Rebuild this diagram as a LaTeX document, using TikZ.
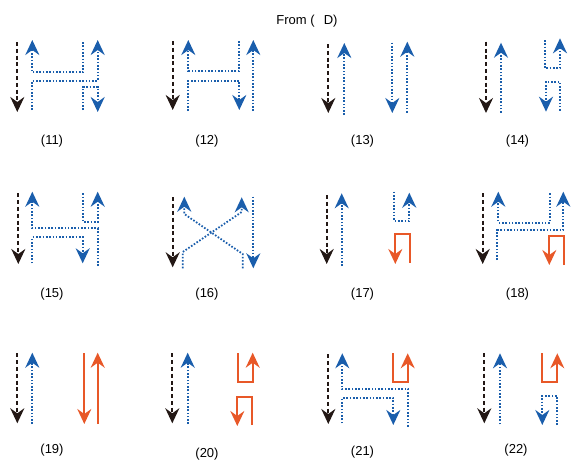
\documentclass[tikz,border=0pt]{standalone}
\usepackage{fontspec}
\setmainfont{Liberation Sans}
\usetikzlibrary{arrows.meta}

\definecolor{flowblack}{RGB}{35,24,21}
\definecolor{flowblue}{RGB}{26,94,172}
\definecolor{floworange}{RGB}{232,88,40}

\tikzset{
  >={Stealth[length=15pt,width=14pt,inset=5pt]},
  blackflow/.style={flowblack, line width=2pt, dash pattern=on 4pt off 2.8pt},
  blueflow/.style={flowblue, line width=1.8pt, dash pattern=on 1.6pt off 1.7pt},
  orangeflow/.style={floworange, line width=1.7pt},
  panellabel/.style={font=\fontsize{13}{15}\selectfont, text=black, inner sep=0pt}
}

\begin{document}
\begin{tikzpicture}[x=1pt, y=-1pt]
  \useasboundingbox (0,0) rectangle (581,474);

  % --- titolo ---
  \node[panellabel] (title) at (307,21) {From (\hspace{0.7em}D)};

  % --- pannello 11 ---
  \draw[blackflow,->] (17.3,42) -- (17.3,112);
  \draw[blueflow,->] (83.3,42) -- (83.3,72.3) -- (32.3,72.3) -- (32.3,40);
  \draw[blueflow,->] (32.3,110) -- (32.3,80.7) -- (97.7,80.7) -- (97.7,40);
  \draw[blueflow,->] (83.3,110) -- (83.3,86.7) -- (97.7,86.7) -- (97.7,112);
  \node[panellabel] (l11) at (52,141) {(11)};

  % --- pannello 12 ---
  \draw[blackflow,->] (172.7,41) -- (172.7,110);
  \draw[blueflow,->] (239.3,41) -- (239.3,70.7) -- (188.3,70.7) -- (188.3,40);
  \draw[blueflow,->] (188.3,111) -- (188.3,80.7) -- (239.3,80.7) -- (239.3,110);
  \draw[blueflow,->] (253.3,111) -- (253.3,40);
  \node[panellabel] (l12) at (207,141) {(12)};

  % --- pannello 13 ---
  \draw[blackflow,->] (328.3,44) -- (328.3,113);
  \draw[blueflow,->] (344.3,115) -- (344.3,43);
  \draw[blueflow,->] (392.3,42.7) -- (392.3,113);
  \draw[blueflow,->] (407.3,112.7) -- (407.3,41.7);
  \node[panellabel] (l13) at (362.5,141) {(13)};

  % --- pannello 14 ---
  \draw[blackflow,->] (486,41.7) -- (486,113);
  \draw[blueflow,->] (501,112.7) -- (501,42.7);
  \draw[blueflow,->] (545,40) -- (545,68.3) -- (560,68.3) -- (560,38.3);
  \draw[blueflow,->] (560,110.7) -- (560,81.7) -- (546,81.7) -- (546,111.7);
  \node[panellabel] (l14) at (517.5,141) {(14)};

  % --- pannello 15 ---
  \draw[blackflow,->] (18.3,193.3) -- (18.3,264);
  \draw[blueflow,->] (82.7,193.3) -- (82.7,221.7) -- (97.7,221.7) -- (97.7,191.7);
  \draw[blueflow,->] (97.7,266) -- (97.7,228.3) -- (32.3,228.3) -- (32.3,191.7);
  \draw[blueflow,->] (32.3,263.3) -- (32.3,237.3) -- (82.7,237.3) -- (82.7,263.3);
  \node[panellabel] (l15) at (52,294) {(15)};

  % --- pannello 16 ---
  \draw[blackflow,->] (172.7,197.3) -- (172.7,267.3);
  \draw[blueflow,->] (182.7,268.3) -- (182.7,252) -- (241.7,212) -- (241.7,197.3);
  \draw[blueflow,->] (242.7,268.3) -- (242.7,254) -- (184.3,214) -- (184.3,196.7);
  \draw[blueflow,->] (253.3,196.7) -- (253.3,268.3);
  \node[panellabel] (l16) at (207,294) {(16)};

  % --- pannello 17 ---
  \draw[blackflow,->] (326.7,195) -- (326.7,264);
  \draw[blueflow,->] (341.7,266) -- (341.7,193.3);
  \draw[blueflow,->] (394.3,191.7) -- (394.3,221) -- (409.3,221) -- (409.3,192.7);
  \draw[orangeflow,->] (410,262.7) -- (410,234) -- (395.3,234) -- (395.3,264);
  \node[panellabel] (l17) at (362.5,294) {(17)};

  % --- pannello 18 ---
  \draw[blackflow,->] (482.7,193.3) -- (482.7,264);
  \draw[blueflow,->] (550,193.3) -- (550,222.7) -- (498.3,222.7) -- (498.3,191.7);
  \draw[blueflow,->] (497.3,260) -- (497.3,230) -- (563.3,230) -- (563.3,191.7);
  \draw[orangeflow,->] (564,265) -- (564,236) -- (549.3,236) -- (549.3,265);
  \node[panellabel] (l18) at (517.5,294) {(18)};

  % --- pannello 19 ---
  \draw[blackflow,->] (17.3,353.3) -- (17.3,423.3);
  \draw[blueflow,->] (32.3,424) -- (32.3,352.7);
  \draw[orangeflow,->] (84.3,353.3) -- (84.3,424);
  \draw[orangeflow,->] (97.7,424) -- (97.7,352.7);
  \node[panellabel] (l19) at (52,450) {(19)};

  % --- pannello 20 ---
  \draw[blackflow,->] (172.3,353.3) -- (172.3,423.3);
  \draw[blueflow,->] (187.7,424) -- (187.7,352.7);
  \draw[orangeflow,->] (237.7,353.3) -- (237.7,382.3) -- (252.7,382.3) -- (252.7,352.7);
  \draw[orangeflow,->] (252.3,425) -- (252.3,396.7) -- (237.3,396.7) -- (237.3,426);
  \node[panellabel] (l20) at (207,454.5) {(20)};

  % --- pannello 21 ---
  \draw[blackflow,->] (328.3,354.3) -- (328.3,424);
  \draw[orangeflow,->] (392.7,353.3) -- (392.7,382.3) -- (407.7,382.3) -- (407.7,353.3);
  \draw[blueflow,->] (408.3,426.7) -- (408.3,389.3) -- (342.3,389.3) -- (342.3,353.3);
  \draw[blueflow,->] (342.3,423.3) -- (342.3,397.7) -- (393.3,397.7) -- (393.3,425);
  \node[panellabel] (l21) at (362.5,452.5) {(21)};

  % --- pannello 22 ---
  \draw[blackflow,->] (484.3,353.3) -- (484.3,423.3);
  \draw[blueflow,->] (500,424.3) -- (500,353.3);
  \draw[orangeflow,->] (542.3,353.3) -- (542.3,382.3) -- (557.3,382.3) -- (557.3,353.3);
  \draw[blueflow,->] (557.3,425) -- (557.3,396) -- (542.3,396) -- (542.3,425);
  \node[panellabel] (l22) at (516,450) {(22)};
\end{tikzpicture}
\end{document}
